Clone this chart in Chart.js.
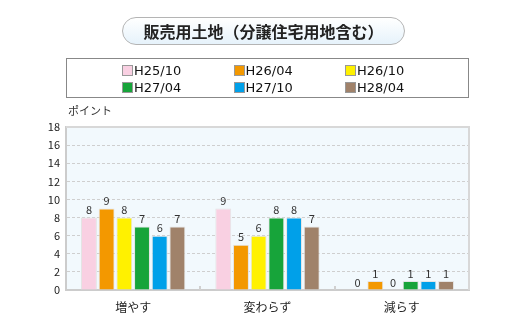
<!DOCTYPE html>
<html>
<head>
<meta charset="utf-8">
<script src="https://cdn.jsdelivr.net/npm/chart.js@4"></script>
<style>
  body { margin: 0; background: #fff; }
  #wrap { position: relative; width: 520px; height: 327px; font-family: "Noto Sans CJK JP", sans-serif; }
  #title {
    position: absolute; left: 122px; top: 17px; width: 281px; height: 26px;
    border: 1px solid #b4b4b4; border-radius: 14px;
    background: linear-gradient(#ffffff, #e6f2fb);
    text-align: center; font-weight: bold; font-size: 16px; line-height: 26px; color: #222;
  }
  #legend {
    position: absolute; left: 66px; top: 58px; width: 401px; height: 38px;
    border: 1px solid #888; background: #fff;
  }
  .item { position: absolute; font-family: "DejaVu Sans", sans-serif; font-size: 13px; line-height: 14px; color: #111; }
  .item span { display: inline-block; width: 9px; height: 9px; border: 1px solid #999; margin-right: 1px; vertical-align: -1px; }
  #unit { position: absolute; left: 68px; top: 102px; font-size: 11px; color: #333; }
  canvas { position: absolute; left: 0; top: 0; }
</style>
</head>
<body>
<div id="wrap">
  <canvas id="myChart" width="520" height="327"></canvas>
  <div id="title">販売用土地（分譲住宅用地含む）</div>
  <div id="legend"></div>
  <div id="unit">ポイント</div>
</div>
<script>
// data
const categories = ['増やす', '変わらず', '減らす'];
const seriesNames = ['H25/10', 'H26/04', 'H26/10', 'H27/04', 'H27/10', 'H28/04'];
const seriesColors = ['#f9d0e2', '#f39800', '#fff100', '#17a43a', '#00a0e9', '#a0826a'];
const h25_10 = [8, 9, 0];
const h26_04 = [9, 5, 1];
const h26_10 = [8, 6, 0];
const h27_04 = [7, 8, 1];
const h27_10 = [6, 8, 1];
const h28_04 = [7, 7, 1];
const yTicks = [0, 2, 4, 6, 8, 10, 12, 14, 16, 18];

const allValues = [h25_10, h26_04, h26_10, h27_04, h27_10, h28_04];

// legend as html
const legendEl = document.getElementById('legend');
seriesNames.forEach((name, i) => {
  const d = document.createElement('div');
  d.className = 'item';
  d.style.left = (55 + (i % 3) * 111.5) + 'px';
  d.style.top = (5 + Math.floor(i / 3) * 17) + 'px';
  d.innerHTML = '<span style="background:' + seriesColors[i] + '"></span>' + name;
  legendEl.appendChild(d);
});

const decorPlugin = {
  id: 'decor',
  beforeDatasetsDraw(chart) {
    const ctx = chart.ctx;
    const a = chart.chartArea;
    ctx.save();
    // plot frame top / right
    ctx.strokeStyle = '#d8d8d8';
    ctx.lineWidth = 2;
    ctx.beginPath();
    ctx.moveTo(a.left, a.top);
    ctx.lineTo(a.right, a.top);
    ctx.lineTo(a.right, a.bottom);
    ctx.stroke();
    // little marks between categories
    const x = chart.scales.x;
    ctx.strokeStyle = '#d0d0d0';
    ctx.lineWidth = 2;
    for (let i = 1; i < categories.length; i++) {
      const px = (x.getPixelForValue(i - 1) + x.getPixelForValue(i)) / 2;
      ctx.beginPath();
      ctx.moveTo(Math.round(px), a.bottom);
      ctx.lineTo(Math.round(px), a.bottom - 4);
      ctx.stroke();
    }
    ctx.restore();
  },
  afterDatasetsDraw(chart) {
    const ctx = chart.ctx;
    ctx.save();
    ctx.font = '11px "Noto Sans CJK JP", sans-serif';
    ctx.fillStyle = '#333';
    ctx.textAlign = 'center';
    ctx.textBaseline = 'bottom';
    chart.data.datasets.forEach((ds, i) => {
      chart.getDatasetMeta(i).data.forEach((bar, j) => {
        ctx.fillText(ds.data[j], bar.x, bar.y - 2);
      });
    });
    ctx.restore();
  }
};

const bgPlugin = {
  id: 'plotbg',
  beforeDraw(chart) {
    const a = chart.chartArea;
    chart.ctx.save();
    chart.ctx.fillStyle = '#f2f9fd';
    chart.ctx.fillRect(a.left, a.top, a.right - a.left, a.bottom - a.top);
    chart.ctx.restore();
  }
};

const ctx = document.getElementById('myChart');

new Chart(ctx, {
  type: 'bar',
  data: {
    labels: categories,
    datasets: seriesNames.map((name, i) => ({
      label: name,
      data: allValues[i],
      backgroundColor: seriesColors[i],
      borderColor: '#e4e4e4',
      borderWidth: 1,
      categoryPercentage: 0.79,
      barPercentage: 0.9
    }))
  },
  options: {
    responsive: false,
    animation: false,
    layout: {
      padding: { top: 127, right: 51, left: 0, bottom: 0 }
    },
    plugins: {
      legend: { display: false },
      tooltip: { enabled: false }
    },
    scales: {
      x: {
        grid: { display: false },
        border: { color: '#cccccc', width: 2 },
        ticks: {
          color: '#222',
          font: { size: 12, family: '"Noto Sans CJK JP", sans-serif' },
          padding: 2
        },
        afterFit: s => { s.height = 37; }
      },
      y: {
        min: 0,
        max: 18,
        afterBuildTicks: s => { s.ticks = yTicks.map(v => ({ value: v })); },
        grid: {
          color: c => c.tick.value === 0 ? 'rgba(0,0,0,0)' : '#cfcfcf',
          drawTicks: false
        },
        border: { color: '#cccccc', width: 2, dash: [3, 2] },
        ticks: {
          color: '#222',
          font: { size: 11, family: '"Noto Sans CJK JP", sans-serif' },
          padding: 6
        },
        afterFit: s => { s.width = 66; }
      }
    }
  },
  plugins: [bgPlugin, decorPlugin]
});
</script>
</body>
</html>
